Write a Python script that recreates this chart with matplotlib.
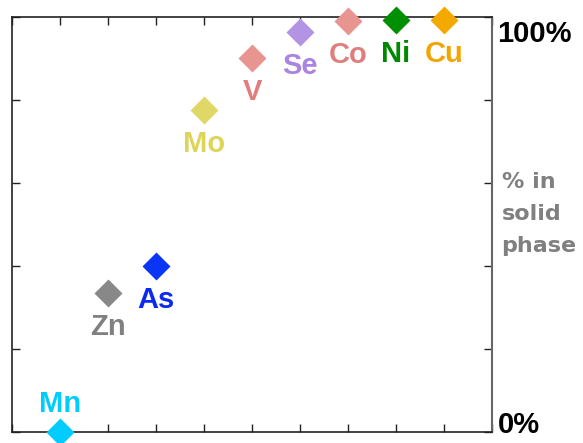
import matplotlib
matplotlib.use("Agg")
import matplotlib.pyplot as plt

# element data: position along x and % in solid phase
elements = ["Mn", "Zn", "As", "Mo", "V", "Se", "Co", "Ni", "Cu"]
xpos = [1, 2, 3, 4, 5, 6, 7, 8, 9]
pct_solid = [0, 33.5, 40, 77.5, 90, 96.5, 99, 99.3, 99.3]
colors = ["#00CCFF", "#888888", "#0A35F5", "#E0D866", "#E89490",
          "#B394E4", "#E89490", "#008F00", "#F5A800"]
text_colors = ["#00CCFF", "#808080", "#0A2AF0", "#DDD45A", "#E07E7E",
               "#A984E0", "#E07E7E", "#008800", "#F2A400"]
label_above = [True, False, False, False, False, False, False, False, False]

fig = plt.figure(figsize=(5.83, 4.43), dpi=100)
ax = fig.add_axes([12/583, 11/443, 480/583, 415/443])

for name, x, y, c, tc, above in zip(elements, xpos, pct_solid, colors,
                                     text_colors, label_above):
    ax.plot(x, y, "D", ms=14.3, color=c, mec="none", clip_on=False, zorder=5)
    dy = 28 if above else -34  # px
    ax.annotate(name, (x, y), xytext=(0, dy * 0.72), textcoords="offset points",
                ha="center", va="center", color=tc, fontsize=21,
                fontweight="bold", family="Liberation Sans")

ax.set_xlim(0, 10)
ax.set_ylim(0, 100)
ax.set_xticks(range(11))
ax.set_yticks(range(0, 101, 20))
ax.tick_params(direction="in", length=6, width=1, top=True, right=True,
               labelbottom=False, labelleft=False, colors="#222222")
for side in ["left", "top", "bottom"]:
    ax.spines[side].set_color("#222222")
    ax.spines[side].set_linewidth(1.2)
ax.spines["right"].set_color("#666666")
ax.spines["right"].set_linewidth(1.5)

ax.annotate("100%", (1.0, 1.0), xycoords="axes fraction", xytext=(4, -2),
            textcoords="offset points", ha="left", va="top",
            fontsize=21, fontweight="bold", family="Liberation Sans", color="black")
ax.annotate("0%", (1.0, 0.0), xycoords="axes fraction", xytext=(4, -1),
            textcoords="offset points", ha="left", va="baseline",
            fontsize=21, fontweight="bold", family="Liberation Sans", color="black")
ax.text(1.02, 0.525, "% in\nsolid\nphase", transform=ax.transAxes, ha="left",
        va="center", fontsize=16, fontweight="bold", color="#808080",
        linespacing=1.75)

fig.savefig("out.png", dpi=100)
